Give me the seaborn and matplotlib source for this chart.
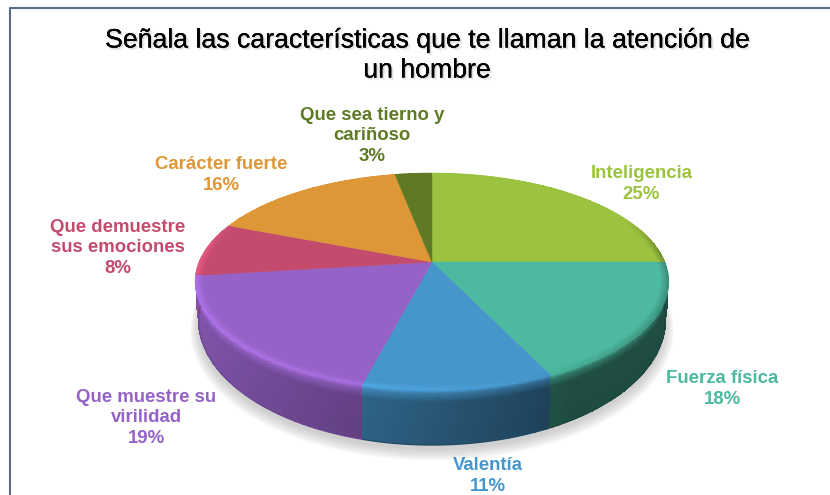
import numpy as np
import seaborn as sns
import matplotlib.pyplot as plt
import matplotlib.patheffects as pe

categorias = ["Inteligencia", "Fuerza física", "Valentía", "Que muestre su\nvirilidad",
              "Que demuestre\nsus emociones", "Carácter fuerte", "Que sea tierno y\ncariñoso"]
valores = [25, 18, 11, 19, 8, 16, 3]
colores = ["#9cc340", "#4cb9a0", "#4696cc", "#9562c7", "#c34b6e", "#dd9736", "#5e7a25"]
titulo = "Señala las características que te llaman la atención de\nun hombre"

# centro de cada etiqueta en pixeles
pos_etiquetas = [(641.5, 184), (722, 389), (488, 476), (146, 418),
                 (118, 248), (221, 175), (372, 136)]

# perspectiva del disco
CX, CY, A, B, K = 432, 262, 233, 105, 0.18
CY2, A2, B2 = 297.5, 229.5, 121


def tapa(theta, r=1.0):
    u, v = r * np.sin(theta), r * np.cos(theta)
    w = 1 + K * v
    return CX + A * u / w, CY - B * v / w


def base(theta, r=1.0):
    u, v = r * np.sin(theta), r * np.cos(theta)
    w = 1 + K * v
    return CX + A2 * u / w, CY2 - B2 * v / w


def sombra_lado(x):
    return np.interp(x, [-1, -0.3, 0.5, 1], [0.88, 0.68, 0.42, 0.42])


def brillo(theta):
    x, v = np.sin(theta), np.cos(theta)
    h = np.interp(x, [-1, -0.3, 0.2, 0.6, 1], [1.18, 1.12, 1.04, 0.9, 0.75])
    return 1 + (h - 1) * np.clip((0.45 - v) / 0.3, 0, 1)


def malla_lado(ax, theta, color):
    s = np.r_[np.linspace(0, 0.24, 17), 0.6, 1.0]
    xt, yt = tapa(theta)
    xb, yb = base(theta)
    X = np.outer(1 - s, xt) + np.outer(s, xb)
    Y = np.outer(1 - s, yt) + np.outer(s, yb)
    th_c = (theta[:-1] + theta[1:]) / 2
    sc = (s[:-1] + s[1:]) / 2
    C = np.zeros((len(sc), len(th_c), 3))
    for j, t in enumerate(th_c):
        lado = sombra_lado(np.sin(t))
        b = brillo(t)
        m = np.interp(sc, [0, 0.07, 0.22, 1], [b, 0.45 * b + 0.55 * lado, lado, lado * 0.97])
        C[:, j, :] = np.clip(np.outer(m, color), 0, 1)
    ax.pcolormesh(X, Y, C, shading="flat", zorder=3)
    # borde inferior suave
    medio = sombra_lado(np.sin(th_c.mean()))
    ax.plot(xb, yb, color=np.array(color) * medio * 0.9, lw=0.9, zorder=3.1)


def malla_borde(ax, theta, color):
    r = np.linspace(0.965, 1.0, 8)
    X = np.array([tapa(theta, ri)[0] for ri in r])
    Y = np.array([tapa(theta, ri)[1] for ri in r])
    th_c = (theta[:-1] + theta[1:]) / 2
    rc = (r[:-1] + r[1:]) / 2
    C = np.zeros((len(rc), len(th_c), 3))
    for j, t in enumerate(th_c):
        m = np.interp(rc, [0.965, 1.0], [1, brillo(t)])
        C[:, j, :] = np.clip(np.outer(m, color), 0, 1)
    ax.pcolormesh(X, Y, C, shading="flat", zorder=5)


if __name__ == "__main__":
    sns.set_theme(style="white")
    plt.rcParams["font.family"] = ["Liberation Sans", "DejaVu Sans"]
    paleta = sns.color_palette(colores)

    fig = plt.figure(figsize=(8.3, 4.95), dpi=100)
    ax = fig.add_axes([0, 0, 1, 1])
    ax.set_xlim(0, 830)
    ax.set_ylim(495, 0)
    ax.axis("off")

    # marco del grafico
    ax.plot([9.5, 9.5, 832], [497, 7.5, 7.5], color="#5b6c87", lw=1.5, zorder=1)

    # sombra bajo el disco
    todo = np.linspace(0, 2 * np.pi, 361)
    for i in range(8):
        xs, ys = base(todo, 1.035 - i * 0.005)
        ax.fill(xs, ys + 9 - i * 0.6, color="#808080", alpha=0.05, lw=0, zorder=2)

    fracciones = np.cumsum([0] + valores) / sum(valores) * 2 * np.pi
    arcos = []
    for i in range(len(valores)):
        ini, fin = fracciones[i], fracciones[i + 1]
        arcos.append(np.linspace(ini, fin, max(int(np.degrees(fin - ini)), 2) * 2 + 1))

    # primero los lados de atras
    orden = sorted(range(len(valores)), key=lambda n: -np.cos(arcos[n]).mean())
    for i in orden:
        vis = arcos[i][np.cos(arcos[i]) < 0.35]
        if len(vis) > 1:
            malla_lado(ax, vis, paleta[i])

    for i, color in enumerate(paleta):
        xa, ya = tapa(arcos[i])
        ax.fill(np.r_[CX, xa], np.r_[CY, ya], color=color, lw=0.4, zorder=4)
        malla_borde(ax, arcos[i], color)

    # etiquetas
    for nombre, val, color, (x, y) in zip(categorias, valores, colores, pos_etiquetas):
        ax.text(x, y, f"{nombre}\n{val}%", color=color, fontsize=13.4, fontweight="bold",
                ha="center", va="center", linespacing=1.27, zorder=6)

    ax.text(427, 55.5, titulo, color="black", fontsize=19.2, ha="center", va="center",
            linespacing=1.2, zorder=6,
            path_effects=[pe.withSimplePatchShadow(offset=(2, -2), alpha=0.08, shadow_rgbFace="#555555"),
                          pe.withSimplePatchShadow(offset=(1, -1), alpha=0.18, shadow_rgbFace="#555555"),
                          pe.Normal()])

    fig.savefig("out.png", dpi=100, facecolor="white")
